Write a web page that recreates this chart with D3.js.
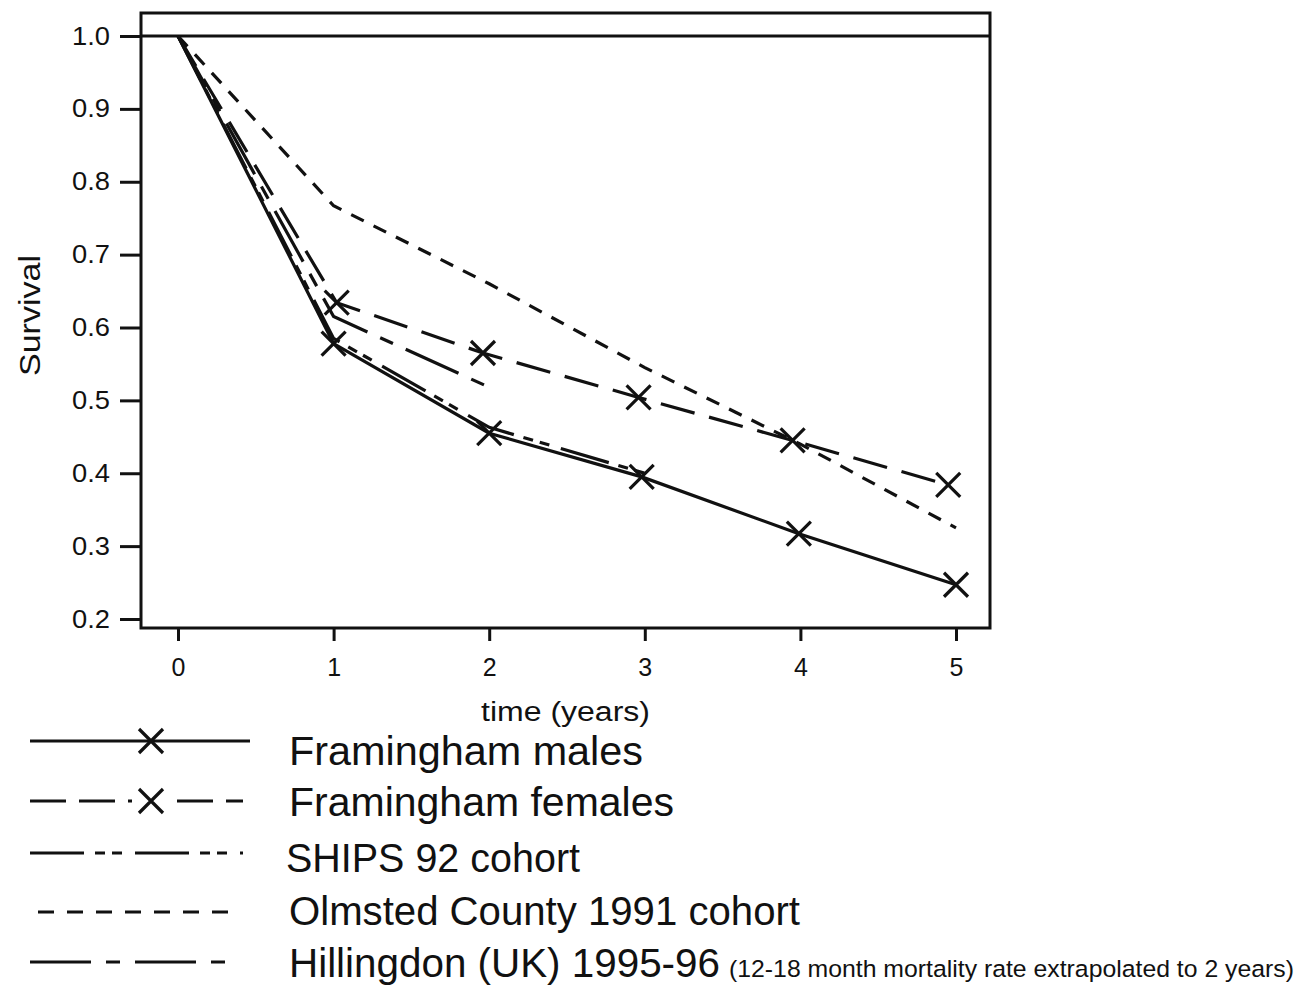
<!DOCTYPE html>
<html><head><meta charset="utf-8">
<script src="https://cdn.jsdelivr.net/npm/d3@7"></script>
<style>body{margin:0;background:#fff}svg{display:block}text{font-family:"Liberation Sans",Arial,sans-serif;fill:#111}</style>
</head><body>
<svg id="c" width="1300" height="989"></svg>
<script>
// ---- data ----
const yTicks = [0.2,0.3,0.4,0.5,0.6,0.7,0.8,0.9,1.0];
const xTicks = [0,1,2,3,4,5];
const malesX = [0,1,2,2.98,3.99,5];
const malesY = [1.0,0.578,0.455,0.395,0.317,0.247];
const femalesX = [0,1.02,1.96,2.96,3.95,4.95];
const femalesY = [1.0,0.634,0.565,0.504,0.445,0.384];
const shipsX = [0,1,2,3];
const shipsY = [1.0,0.585,0.463,0.400];
const olmstedX = [0,1,2,3,4,5];
const olmstedY = [1.0,0.767,0.660,0.545,0.440,0.325];
const hillX = [0,1,2];
const hillY = [1.0,0.615,0.518];
const legendNames = ["Framingham males","Framingham females","SHIPS 92 cohort","Olmsted County 1991 cohort","Hillingdon (UK) 1995-96"];
const legendNote = "(12-18 month mortality rate extrapolated to 2 years)";

const svg = d3.select("#c");
const x = d3.scaleLinear().domain([0,5]).range([178,956]);
const y = d3.scaleLinear().domain([0.2,1.0]).range([619,36]);
const L=141,T=13,R=990,B=628;

const styles = [
  {dash:null, marker:true},
  {dash:"35,15", marker:true},
  {dash:"50,10,10,7,10,12", marker:false},
  {dash:"14,11", marker:false},
  {dash:"58,14,14,14", marker:false}
];
const series = [
  {xs:malesX, ys:malesY},
  {xs:femalesX, ys:femalesY},
  {xs:shipsX, ys:shipsY},
  {xs:olmstedX, ys:olmstedY},
  {xs:hillX, ys:hillY}
];

// frame
svg.append("rect").attr("x",L).attr("y",T).attr("width",R-L).attr("height",B-T)
  .attr("fill","none").attr("stroke","#111").attr("stroke-width",3);

// axes
const ya = svg.append("g").attr("transform",`translate(${L},0)`)
  .call(d3.axisLeft(y).tickValues(yTicks).tickSize(21).tickPadding(10).tickFormat(d3.format(".1f")));
ya.select(".domain").remove();
ya.selectAll("line").attr("stroke","#111").attr("stroke-width",3);
ya.selectAll("text").style("font-size","25px").attr("textLength",38).attr("lengthAdjust","spacingAndGlyphs").attr("fill","#111");

const xa = svg.append("g").attr("transform",`translate(0,${B})`)
  .call(d3.axisBottom(x).tickValues(xTicks).tickSize(13).tickPadding(17).tickFormat(d3.format("d")));
xa.select(".domain").remove();
xa.selectAll("line").attr("stroke","#111").attr("stroke-width",3);
xa.selectAll("text").style("font-size","25px").attr("fill","#111");

// reference line at 1.0
svg.append("line").attr("x1",L).attr("x2",R).attr("y1",y(1.0)).attr("y2",y(1.0))
  .attr("stroke","#111").attr("stroke-width",3);

// axis titles
svg.append("text").attr("x",481).attr("y",721).attr("textLength",169).attr("lengthAdjust","spacingAndGlyphs")
  .style("font-size","27px").text("time (years)");
svg.append("text").attr("transform","translate(40,376) rotate(-90)").attr("textLength",121).attr("lengthAdjust","spacingAndGlyphs")
  .style("font-size","30px").text("Survival");

// lines
const line = d3.line().x(d=>x(d[0])).y(d=>y(d[1]));
function xMarker(g,cx,cy,s){
  g.append("path").attr("d",`M${cx-s},${cy-s}L${cx+s},${cy+s}M${cx-s},${cy+s}L${cx+s},${cy-s}`)
   .attr("stroke","#111").attr("stroke-width",3.2).attr("fill","none");
}
const plot = svg.append("g");
series.forEach((s,i)=>{
  const pts = s.xs.map((v,j)=>[v,s.ys[j]]);
  plot.append("path").attr("d",line(pts)).attr("fill","none").attr("stroke","#111")
    .attr("stroke-width",3.2).attr("stroke-dasharray",styles[i].dash);
  if(styles[i].marker){
    pts.slice(1).forEach(p=>xMarker(plot,x(p[0]),y(p[1]),12));
  }
});

// legend
const legRows = [741,801,853,912,962];
const legBase = [765,816,872,925,977];
const legWidths = [354,385,294,511,431];
const legX0 = [30,30,30,38,30], legX1=[250,243,243,233,230];
const legDash = [null,"36,13","54,11,10,7,10,13","16,13","61,15,14,15"];
legendNames.forEach((n,i)=>{
  svg.append("line").attr("x1",legX0[i]).attr("x2",legX1[i]).attr("y1",legRows[i]).attr("y2",legRows[i])
    .attr("stroke","#111").attr("stroke-width",3.2).attr("stroke-dasharray",legDash[i]);
  if(styles[i].marker){
    if(i===1) svg.append("rect").attr("x",132).attr("y",legRows[i]-4).attr("width",40).attr("height",8).attr("fill","#fff");
    xMarker(svg,151,legRows[i],12);
  }
  svg.append("text").attr("x",i===2?286:289).attr("y",legBase[i]).attr("textLength",legWidths[i]).attr("lengthAdjust","spacingAndGlyphs")
    .style("font-size","41px").text(n);
});
svg.append("text").attr("x",729).attr("y",977).attr("textLength",565).attr("lengthAdjust","spacingAndGlyphs")
  .style("font-size","24.5px").text(legendNote);
</script>
</body></html>
